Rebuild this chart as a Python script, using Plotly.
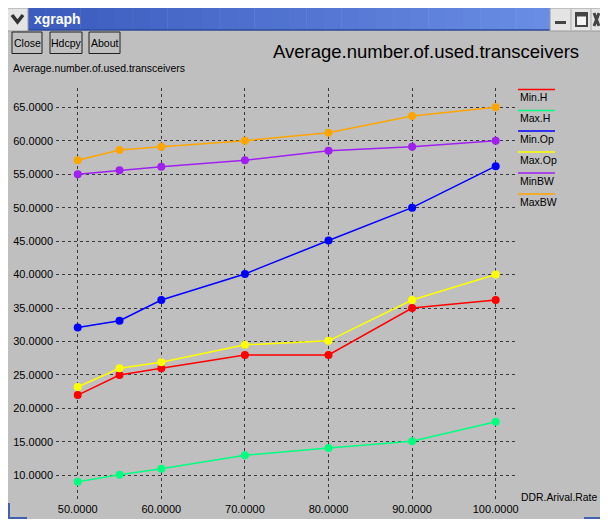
import plotly.graph_objects as go

# ---------------- data ----------------
x_vals = [50, 55, 60, 70, 80, 90, 100]
min_h = [22.0, 25.0, 26.0, 28.0, 28.0, 35.0, 36.2]
max_h = [9.05, 10.1, 11.0, 13.0, 14.1, 15.1, 18.0]
min_op = [32.1, 33.1, 36.2, 40.1, 45.1, 50.0, 56.2]
max_op = [23.2, 26.0, 26.9, 29.5, 30.1, 36.2, 40.0]
min_bw = [55.0, 55.6, 56.1, 57.1, 58.5, 59.1, 60.0]
max_bw = [57.1, 58.6, 59.1, 60.0, 61.2, 63.7, 65.0]

series_names = ["Min.H", "Max.H", "Min.Op", "Max.Op", "MinBW", "MaxBW"]
series_data = [min_h, max_h, min_op, max_op, min_bw, max_bw]
series_colors = ["#ff0000", "#00ff7f", "#0000ff", "#ffff00", "#a020f0", "#ffa500"]

x_ticks = [50, 60, 70, 80, 90, 100]
x_tick_labels = ["50.0000", "60.0000", "70.0000", "80.0000", "90.0000", "100.0000"]
y_ticks = [10, 15, 20, 25, 30, 35, 40, 45, 50, 55, 60, 65]
y_tick_labels = ["10.0000", "15.0000", "20.0000", "25.0000", "30.0000", "35.0000",
                 "40.0000", "45.0000", "50.0000", "55.0000", "60.0000", "65.0000"]

title_text = "Average.number.of.used.transceivers"
y_label = "Average.number.of.used.transceivers"
x_label = "DDR.Arival.Rate"
window_title = "xgraph"
buttons = ["Close", "Hdcpy", "About"]

# ---------------- geometry (page pixels; page has an 8px body margin) ----------------
OFF = 8
RIGHT_EDGE = 600
W, H = RIGHT_EDGE - OFF, 527 - 2 * OFF
L, R, T, B = 56, 518, 88, 501  # plot area in page pixels
FONT = "Liberation Sans, Arial, sans-serif"
GRAY = "#bfbfbf"


def px(x):
    return (x - L) / (R - L)


def py(y):
    return (B - y) / (B - T)


fig = go.Figure()
for name, ys, col in zip(series_names, series_data, series_colors):
    fig.add_trace(go.Scatter(
        x=x_vals, y=ys, mode="lines+markers", name=name,
        line=dict(color=col, width=1.5),
        marker=dict(color=col, size=8, line=dict(width=0)),
        showlegend=False, cliponaxis=False,
    ))

shapes = []
annotations = []


def rect(x0, y0, x1, y1, fill, line_color=None, lw=0, layer="below"):
    shapes.append(dict(type="rect", xref="paper", yref="paper",
                       x0=px(x0), x1=px(x1), y0=py(y1), y1=py(y0),
                       fillcolor=fill, layer=layer,
                       line=dict(color=line_color or fill, width=lw)))


def hline(x0, x1, y, color, lw=1, layer="above"):
    shapes.append(dict(type="line", xref="paper", yref="paper",
                       x0=px(x0), x1=px(x1), y0=py(y), y1=py(y),
                       line=dict(color=color, width=lw), layer=layer))


def text(x, y, s, size, color="#000000", xanchor="left", yanchor="middle", family=FONT):
    annotations.append(dict(xref="paper", yref="paper", x=px(x), y=py(y), text=s,
                            showarrow=False, xanchor=xanchor, yanchor=yanchor,
                            font=dict(family=family, size=size, color=color)))


# window body
rect(7, 30, 610, 521, GRAY)
# title bar (gradient strips)
n = 30
c0 = (60, 92, 190)
c1 = (105, 140, 228)
x0b, x1b = 28, 550
for i in range(n):
    t = i / (n - 1)
    c = tuple(int(c0[k] + (c1[k] - c0[k]) * t) for k in range(3))
    xa = x0b + (x1b - x0b) * i / n
    xb = x0b + (x1b - x0b) * (i + 1) / n
    rect(xa, 8, xb + 0.5, 30, "rgb(%d,%d,%d)" % c)
hline(28, 550, 30, "#2a4a9a", 1.5, "below")
# chevron button
rect(7, 8, 28, 31, "#e4e4e4", "#9a9a9a", 1)
shapes.append(dict(type="path", xref="paper", yref="paper",
                   path="M %f,%f L %f,%f L %f,%f" % (px(12), py(15), px(17.5), py(22), px(23), py(15)),
                   line=dict(color="#333333", width=3.5), layer="below"))
# right window buttons
rect(550, 8, 610, 31, "#e4e4e4", "#9a9a9a", 1)
shapes.append(dict(type="line", xref="paper", yref="paper", x0=px(571), x1=px(571), y0=py(9), y1=py(30),
                   line=dict(color="#a8a8a8", width=1), layer="below"))
shapes.append(dict(type="line", xref="paper", yref="paper", x0=px(591), x1=px(591), y0=py(9), y1=py(30),
                   line=dict(color="#a8a8a8", width=1), layer="below"))
rect(555, 21, 566, 24, "#444444")
rect(576, 13, 587, 26, "#f4f4f4", "#444444", 2)
hline(576, 587, 15, "#444444", 3, "below")
shapes.append(dict(type="path", xref="paper", yref="paper",
                   path="M %f,%f L %f,%f M %f,%f L %f,%f" % (px(594), py(13), px(599), py(26),
                                                              px(599), py(13), px(594), py(26)),
                   line=dict(color="#444444", width=3), layer="below"))
text(32, 19.5, "<b>" + window_title + "</b>", 14, "#ffffff")

# buttons
btn_x = [(12, 42), (50, 82), (89, 120)]
for (bx0, bx1), lab in zip(btn_x, buttons):
    rect(bx0, 32, bx1, 53.5, GRAY, "#202020", 1)
    text((bx0 + bx1) / 2, 43, lab, 10.5, xanchor="center")

# titles
text(426, 52, title_text, 18.5, xanchor="center")
text(11, 69, y_label, 10.4)
text(599, 497, x_label, 10.4, xanchor="right")

# legend
leg_y = [89.5, 110.5, 131, 152, 173, 194]
for name, col, ly in zip(series_names, series_colors, leg_y):
    hline(518, 555, ly, col, 1.5)
    text(518, ly + 7.5, name, 10.5)

# bottom corners
rect(7, 503, 10, 524, "#4060b0")
rect(7, 517, 27, 524, "#4060b0")
rect(584, 517, 610, 526, "#4060b0")

fig.update_layout(
    shapes=shapes, annotations=annotations,
    width=W, height=H,
    margin=dict(l=L - OFF, r=RIGHT_EDGE - R, t=T - OFF, b=(OFF + H) - B, pad=0,
                autoexpand=False),
    paper_bgcolor="#ffffff", plot_bgcolor="rgba(0,0,0,0)",
    showlegend=False,
    xaxis=dict(range=[47.4, 102.67], tickvals=x_ticks, ticktext=x_tick_labels,
               showgrid=True, gridcolor="#3a3a3a", griddash="dot", gridwidth=1,
               zeroline=False, showline=False, ticks="", automargin=False,
               tickfont=dict(family=FONT, size=11, color="#000000")),
    yaxis=dict(range=[6.17, 67.88], tickvals=y_ticks, ticktext=y_tick_labels,
               showgrid=True, gridcolor="#3a3a3a", griddash="dot", gridwidth=1,
               zeroline=False, showline=False, ticks="", automargin=False,
               ticklabelstandoff=2,
               tickfont=dict(family=FONT, size=11, color="#000000")),
)

fig.write_html("out.html")
